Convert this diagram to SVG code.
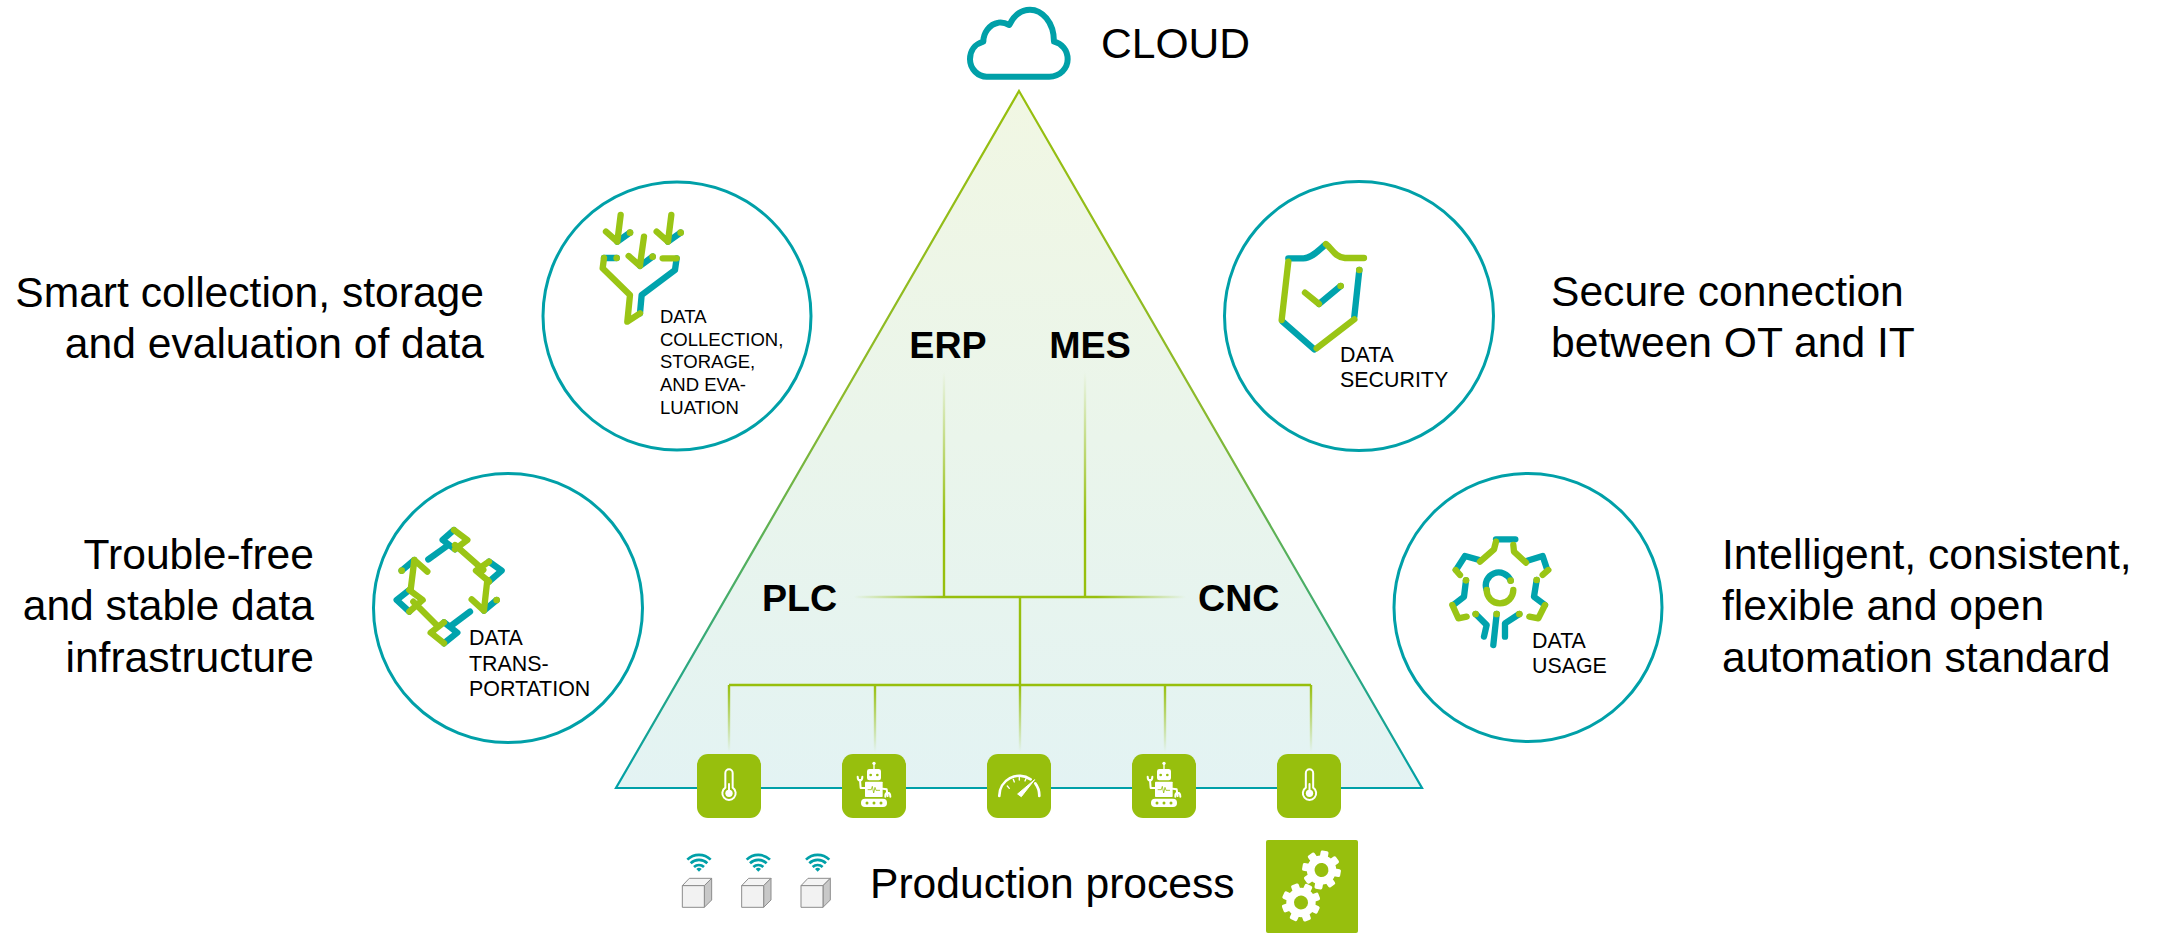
<svg xmlns="http://www.w3.org/2000/svg" xmlns:xlink="http://www.w3.org/1999/xlink" width="2161" height="933" viewBox="0 0 2161 933">
<style>
text{font-family:"Liberation Sans",Arial,sans-serif;fill:#000}
.big{font-size:42.6px}
.bold{font-size:37.6px;font-weight:700}
.small{font-size:21.4px}
.ring{fill:#fff;stroke:#00a0a8;stroke-width:3}
.g,.t{fill:none;stroke-width:19;stroke-linecap:round;stroke-linejoin:round}
.g{stroke:#9ac515}
.t{stroke:#00a3ad}
.dot{fill:#9ac515}
.tile{fill:#97bf0d}
.w{fill:none;stroke:#fff;stroke-linecap:round;stroke-linejoin:round}
</style>
<defs>
<linearGradient id="triFill" gradientUnits="userSpaceOnUse" x1="0" y1="91" x2="0" y2="788"><stop offset="0" stop-color="#f1f7e3"/><stop offset="1" stop-color="#e3f3f3"/></linearGradient>
<linearGradient id="triStroke" gradientUnits="userSpaceOnUse" x1="0" y1="91" x2="0" y2="788"><stop offset="0" stop-color="#97bf0d"/><stop offset=".45" stop-color="#8dba2c"/><stop offset="1" stop-color="#00a0a8"/></linearGradient>
<linearGradient id="fadeTop" gradientUnits="userSpaceOnUse" x1="0" y1="372" x2="0" y2="520"><stop offset="0" stop-color="#97bf0d" stop-opacity="0"/><stop offset="1" stop-color="#97bf0d"/></linearGradient>
<linearGradient id="fadeBottom" gradientUnits="userSpaceOnUse" x1="0" y1="685" x2="0" y2="752"><stop offset="0" stop-color="#97bf0d"/><stop offset="1" stop-color="#97bf0d" stop-opacity="0"/></linearGradient>
<linearGradient id="fadeH" gradientUnits="userSpaceOnUse" x1="854" y1="0" x2="1186" y2="0"><stop offset="0" stop-color="#97bf0d" stop-opacity="0"/><stop offset=".27" stop-color="#97bf0d"/><stop offset=".73" stop-color="#97bf0d"/><stop offset="1" stop-color="#97bf0d" stop-opacity="0"/></linearGradient>
<g id="therm">
<path class="w" stroke-width="6" d="M-11 5V-39a11 11 0 0 1 22 0V5a20 20 0 1 1-22 0Z"/>
<circle r="11" cy="22" fill="#fff"/>
<path class="w" stroke-width="6" d="M0-6V20"/>
</g>
<g id="robot">
<circle cx="0" cy="-62" r="5" fill="#fff"/><path class="w" stroke-width="4" d="M0-60V-45"/>
<rect x="-21" y="-45" width="42" height="34" rx="7" fill="#fff"/>
<circle cx="-10" cy="-27" r="4" fill="#97bf0d"/><circle cx="10" cy="-27" r="4" fill="#97bf0d"/>
<rect x="-27" y="-7" width="53" height="46" rx="2" fill="#fff"/>
<path d="M-19 17H-8L-5 7-1 27 3 10 6 19H18" fill="none" stroke="#97bf0d" stroke-width="2.5"/>
<path class="w" stroke-width="6" d="M-27 12H-40L-42-12M-49-22Q-49-11-42-11T-35-22"/>
<path class="w" stroke-width="6" d="M26 14 38 16 41 36M34 38Q33 26 41 26T49 38"/>
<rect x="-39" y="44" width="78" height="25" rx="12" fill="#fff"/>
<circle cx="-21" cy="57" r="4.5" fill="#97bf0d"/><circle cx="0" cy="57" r="4.5" fill="#97bf0d"/><circle cx="21" cy="57" r="4.5" fill="#97bf0d"/>
</g>
<g id="gear">
<circle r="44" fill="#fff"/>
<g fill="#fff"><rect x="-12" y="-58" width="24" height="116" rx="5"/><rect x="-12" y="-58" width="24" height="116" rx="5" transform="rotate(45)"/><rect x="-12" y="-58" width="24" height="116" rx="5" transform="rotate(90)"/><rect x="-12" y="-58" width="24" height="116" rx="5" transform="rotate(135)"/></g>
<circle r="21" fill="#97bf0d"/>
</g>
<g id="sensor">
<g fill="none" stroke="#00a0a8" stroke-width="8"><path d="M82 389A50 50 0 0 1 152 389"/><path d="M92 400A36 36 0 0 1 142 400"/><path d="M102 411A22 22 0 0 1 132 411"/></g>
<path d="M109 417A12 12 0 0 1 125 417L117 425Z" fill="#00a0a8"/>
<g stroke="#8c8c8c" stroke-width="3" stroke-linejoin="round">
<path d="M67 467 88 445H155L133 467Z" fill="#f4f4f4"/>
<path d="M133 467 155 445V510L133 532Z" fill="#c8c8c8"/>
<rect x="67" y="467" width="66" height="65" fill="#f2f2f2"/>
</g>
</g>
</defs>

<g id="pyramid"><path d="M1019 91 1422 788H616Z" fill="url(#triFill)" stroke="url(#triStroke)" stroke-width="2.2" stroke-linejoin="miter"/></g>

<g id="connectors" fill="none" stroke-width="2.4">
<path d="M944 372V597" stroke="url(#fadeTop)"/>
<path d="M1085 372V597" stroke="url(#fadeTop)"/>
<path d="M854 597H1186" stroke="url(#fadeH)"/>
<path d="M1020 597V685M729 685H1311" stroke="#97bf0d"/>
<path d="M729 685V752M875 685V752M1020 685V752M1165 685V752M1311 685V752" stroke="url(#fadeBottom)"/>
</g>

<g id="cloud">
<path transform="translate(950 0) scale(.3333)" fill="none" stroke="#00a0a8" stroke-width="18" stroke-linejoin="round" d="M110 230H298C330 230 353 205 353 178 353 150 335 130 312 125 312 65 275 29 240 29 210 29 190 50 178 75 165 68 155 66 145 68 118 72 100 100 100 125 75 132 60 152 60 178 60 208 85 230 110 230Z"/>
<text class="big" x="1101" y="58">CLOUD</text>
</g>

<g id="data-collection">
<circle class="ring" cx="677" cy="316" r="134"/>
<g transform="translate(530 180) scale(.3333)">
<path class="t" d="M262 185 300 158M330 258 368 230M414 185 452 158M260 234H222M330 400 335 345 435 270 440 235"/>
<path class="g" d="M272 105 262 185M228 155 262 185M342 170 330 255M296 228 330 258M424 105 414 185M380 155 414 185M222 234 218 265 300 345 292 425 330 400M440 235H398"/>
<circle class="dot" cx="300" cy="158" r="10"/><circle class="dot" cx="368" cy="230" r="10"/><circle class="dot" cx="452" cy="158" r="10"/><circle class="dot" cx="260" cy="234" r="10"/>
</g>
<text class="small" style="font-size:18.5px" x="660" y="323">DATA</text>
<text class="small" style="font-size:18.5px" x="660" y="345.5">COLLECTION,</text>
<text class="small" style="font-size:18.5px" x="660" y="368">STORAGE,</text>
<text class="small" style="font-size:18.5px" x="660" y="391">AND EVA-</text>
<text class="small" style="font-size:18.5px" x="660" y="413.5">LUATION</text>
</g>

<g id="data-transportation">
<circle class="ring" cx="508" cy="608" r="134.5"/>
<g transform="translate(370 480) scale(.3333)">
<path class="t" d="M175 238 235 195M218 180 252 150M255 208 218 180M357 245 395 272 357 305M342 392 380 360M300 395 240 440M222 427 262 458 222 490M118 330 80 360 118 395M133 240 95 272"/>
<path class="g" d="M252 150 292 180 255 208M255 195 340 270M357 305 318 272 357 245M352 300 342 390M305 358 342 392M222 490 182 458 222 427M205 440 130 365M118 395 158 360 118 330M122 330 133 240M133 240 172 275"/>
<circle class="dot" cx="380" cy="360" r="10"/><circle class="dot" cx="95" cy="272" r="10"/><circle class="dot" cx="352" cy="300" r="10"/><circle class="dot" cx="122" cy="330" r="10"/>
</g>
<text class="small" x="469" y="645">DATA</text>
<text class="small" x="469" y="670.5">TRANS-</text>
<text class="small" x="469" y="696">PORTATION</text>
</g>

<g id="data-security">
<circle class="ring" cx="1359" cy="316" r="134.5"/>
<g transform="translate(1220 180) scale(.3333)">
<path class="t" d="M205 235H250C275 235 295 212 315 195M418 270 403 410M283 508 188 425M297 372 362 318"/>
<path class="g" d="M318 192C335 205 345 232 375 234H432M403 418 290 505M185 420 205 245M255 338 297 372"/>
<circle class="dot" cx="418" cy="270" r="10"/><circle class="dot" cx="362" cy="318" r="10"/>
</g>
<text class="small" x="1340" y="362">DATA</text>
<text class="small" x="1340" y="387">SECURITY</text>
</g>

<g id="data-usage">
<circle class="ring" cx="1528" cy="607.5" r="134"/>
<g transform="translate(1390 490) scale(.3333)">
<path class="t" d="M318 148H376M268 210 225 198 198 240M412 212 458 198 472 240M228 271 222 320 190 345M440 270 432 320 465 345M362 272A38 38 0 0 0 290 300M257 372 290 405 282 440M320 372 310 465M388 372 345 400 345 440"/>
<path class="g" d="M318 155 312 178 270 215M370 165 372 185 408 218M197 240 210 255M475 240 458 255M187 345 205 385 230 380M465 345 445 385 418 380M290 300A38 38 0 0 0 370 300"/>
<circle class="dot" cx="228" cy="271" r="10"/><circle class="dot" cx="440" cy="270" r="10"/><circle class="dot" cx="362" cy="272" r="10"/><circle class="dot" cx="257" cy="372" r="10"/><circle class="dot" cx="320" cy="372" r="10"/><circle class="dot" cx="388" cy="372" r="10"/>
</g>
<text class="small" x="1532" y="648">DATA</text>
<text class="small" x="1532" y="673">USAGE</text>
</g>

<g id="statements" class="big">
<text class="big" text-anchor="end" x="484" y="307">Smart collection, storage</text>
<text class="big" text-anchor="end" x="484" y="358">and evaluation of data</text>
<text class="big" text-anchor="end" x="314" y="569">Trouble-free</text>
<text class="big" text-anchor="end" x="314" y="620">and stable data</text>
<text class="big" text-anchor="end" x="314" y="672">infrastructure</text>
<text class="big" x="1551" y="306">Secure connection</text>
<text class="big" x="1551" y="357">between OT and IT</text>
<text class="big" x="1722" y="569">Intelligent, consistent,</text>
<text class="big" x="1722" y="620">flexible and open</text>
<text class="big" x="1722" y="672">automation standard</text>
</g>

<g id="erp"><text class="bold" x="948" y="358" text-anchor="middle">ERP</text></g>
<g id="mes"><text class="bold" x="1090" y="358" text-anchor="middle">MES</text></g>
<g id="plc"><text class="bold" x="762" y="611">PLC</text></g>
<g id="cnc"><text class="bold" x="1198" y="611">CNC</text></g>

<g id="tile-thermometer-1"><rect class="tile" x="697" y="754" width="64" height="64" rx="11"/><use xlink:href="#therm" href="#therm" transform="translate(729 786) scale(.3333)"/></g>
<g id="tile-robot-1"><rect class="tile" x="842" y="754" width="64" height="64" rx="11"/><use xlink:href="#robot" href="#robot" transform="translate(874 784) scale(.3333)"/></g>
<g id="tile-gauge"><rect class="tile" x="987" y="754" width="64" height="64" rx="11"/>
<g transform="translate(660 730) scale(.3333)">
<path class="w" stroke-width="8" stroke-linecap="butt" d="M1018 198A60 60 0 0 1 1112 148M1126 160A60 60 0 0 1 1138 198"/>
<path class="w" stroke-width="4" d="M1042 168 1048 175M1060 148 1063 156M1078 142V150M1098 146 1095 153"/>
<path d="M1073 192 1124 149 1084 200Z" fill="#fff" stroke="#fff" stroke-width="3" stroke-linejoin="round"/>
</g></g>
<g id="tile-robot-2"><rect class="tile" x="1132" y="754" width="64" height="64" rx="11"/><use xlink:href="#robot" href="#robot" transform="translate(1164 784) scale(.3333)"/></g>
<g id="tile-thermometer-2"><rect class="tile" x="1277" y="754" width="64" height="64" rx="11"/><use xlink:href="#therm" href="#therm" transform="translate(1309.5 786) scale(.3333)"/></g>

<g id="sensors" transform="translate(660 730) scale(.3333)">
<use xlink:href="#sensor" href="#sensor"/>
<use xlink:href="#sensor" href="#sensor" x="178"/>
<use xlink:href="#sensor" href="#sensor" x="356"/>
</g>

<g id="production-process">
<text class="big" x="870" y="898">Production process</text>
<rect class="tile" x="1266" y="840" width="92" height="93" rx="2"/>
<use xlink:href="#gear" href="#gear" transform="translate(1321.5 870) scale(.3333) rotate(10)"/>
<use xlink:href="#gear" href="#gear" transform="translate(1301 902.5) scale(.3333) rotate(25)"/>
</g>
</svg>
